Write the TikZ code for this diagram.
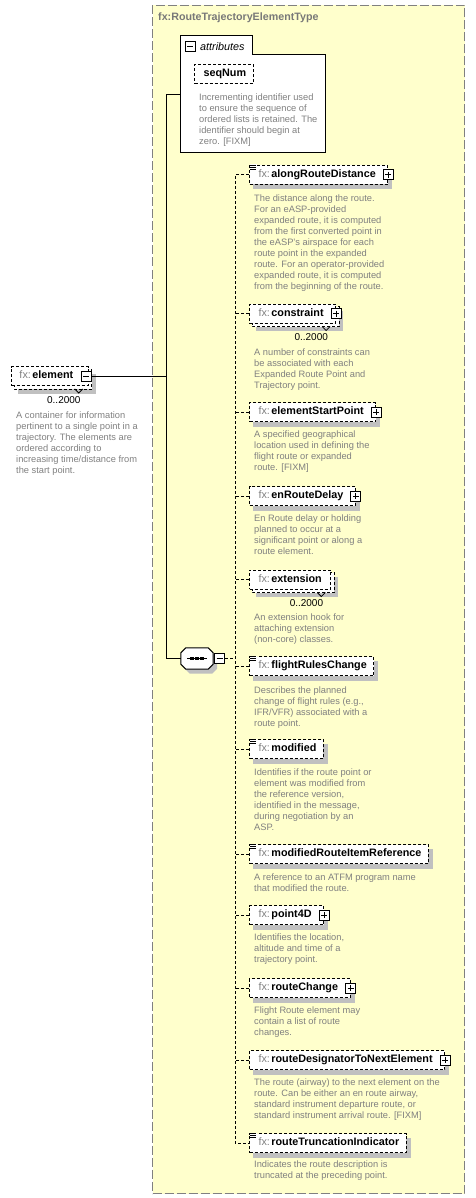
\documentclass[tikz,border=0pt]{standalone}
\usepackage{fontspec}
\setmainfont{Liberation Sans}
\definecolor{yel}{RGB}{255,255,204}
\definecolor{boxgray}{RGB}{128,128,128}
\definecolor{shgray}{RGB}{192,192,192}
\definecolor{fxgray}{RGB}{128,128,128}
\definecolor{descgray}{RGB}{128,128,128}
\definecolor{titlegray}{RGB}{120,120,120}
\pgfdeclarelayer{shadowlayer}
\pgfdeclarelayer{backlayer}
\pgfsetlayers{shadowlayer,backlayer,main}
\newcommand\elname[1]{{\color{fxgray}fx:}\hspace{1.5pt}\textbf{#1}}
\newcommand\desctext[1]{\parbox[t]{260pt}{\raggedright\fontsize{9.3}{11}\selectfont #1}}
\newcommand\simpleicon[1]{%
  \fill[white] ([shift={(0.5pt,0.5pt)}]#1.north west) rectangle ([shift={(7.5pt,-5pt)}]#1.north west);
  \foreach \k in {0pt,2pt,4pt} \draw[line width=0.8pt] ([shift={(1pt,-\k)}]#1.north west) -- ([shift={(7pt,-\k)}]#1.north west);}
\newcommand\notch[1]{%
  \draw[line width=0.8pt] ([shift={(-14pt,-3pt)}]#1.south east) -- ([shift={(-10pt,-7pt)}]#1.south east) -- ([shift={(-6pt,-3pt)}]#1.south east);}
\newcommand\octpath[2]{%
  ([shift={#2},xshift=5pt]#1.north west) -- ([shift={#2},xshift=-5pt]#1.north east)
  -- ([shift={#2},yshift=-5pt]#1.north east) -- ([shift={#2},yshift=5pt]#1.south east)
  -- ([shift={#2},xshift=-5pt]#1.south east) -- ([shift={#2},xshift=5pt]#1.south west)
  -- ([shift={#2},yshift=5pt]#1.south west) -- ([shift={#2},yshift=-5pt]#1.north west) -- cycle}
\tikzset{
  el/.style={draw, line width=1pt, dash pattern=on 3pt off 2pt, fill=white, minimum height=19pt,
    inner sep=0pt, anchor=west, font=\fontsize{10.8}{13}\selectfont, text height=8pt, text depth=2.3pt},
  desc/.style={anchor=base west, inner sep=0pt, text=descgray},
  mult/.style={anchor=east, inner sep=0pt, font=\fontsize{10}{12}\selectfont},
  icon/.style={draw, solid, line width=1pt, fill=white, minimum size=10pt, inner sep=0pt},
  plusicon/.style={icon, path picture={
      \draw[line width=1pt] ([xshift=2pt]path picture bounding box.west) -- ([xshift=-2pt]path picture bounding box.east);
      \draw[line width=1pt] ([yshift=-2pt]path picture bounding box.north) -- ([yshift=2pt]path picture bounding box.south);}},
  minusicon/.style={icon, path picture={
      \draw[line width=1pt] ([xshift=2pt]path picture bounding box.west) -- ([xshift=-2pt]path picture bounding box.east);}},
  conn/.style={line width=1pt},
  dconn/.style={line width=1pt, dash pattern=on 3pt off 2pt},
}
\begin{document}
\begin{tikzpicture}[x=1pt,y=-1pt]
\useasboundingbox (0,0) rectangle (475,1198);
\begin{pgfonlayer}{shadowlayer}
  \node[draw=boxgray, fill=yel, dash pattern=on 9pt off 3pt, line width=1pt, minimum width=312pt,
    minimum height=1188pt, anchor=north west, inner sep=0pt] (outer) at (152,5) {};
\end{pgfonlayer}
\node[anchor=west, inner sep=0pt, font=\bfseries\fontsize{10.7}{13}\selectfont, text=titlegray] (title) at (158,18) {fx:RouteTrajectoryElementType};

% attributes
\node[minimum width=145pt, minimum height=97pt, anchor=north west, inner sep=0pt] (attr) at (180,55) {};
\draw[line width=1pt, fill=white] (attr.south west) -- (180,36) -- (252,36) -- (252,55) -- (attr.north east) -- (attr.south east) -- cycle;
\node[minusicon] (am) at (190,47) {};
\node[anchor=west, inner sep=0pt, font=\itshape\fontsize{10.8}{13}\selectfont] (attrlbl) at (200,47) {attributes};
\node[el] (seqnum) at (194,74) {\hspace*{9pt}\textbf{seqNum}\hspace*{7pt}};
\node[desc] (dsq) at (199,100.5) {\desctext{Incrementing identifier used\\to ensure the sequence of\\ordered lists is retained. The\\identifier should begin at\\zero. [FIXM]}};

% element
\node[el] (elem) at (11,376) {\hspace*{8pt}\elname{element}\hspace*{15pt}};
\node[minusicon] (em) at ([xshift=-2.5pt]elem.east) {};
\notch{elem}
\node[mult] (elmult) at ([shift={(-8pt,-14.5pt)}]elem.south east) {0..2000};
\node[desc] (deldesc) at (16,418.5) {\desctext{A container for information\\pertinent to a single point in a\\trajectory. The elements are\\ordered according to\\increasing time/distance from\\the start point.}};

% junctions
\coordinate (j1) at (166,95);
\coordinate (dx) at (235,0);

% sequence
\node[minimum width=32pt, minimum height=21pt, inner sep=0pt] (seq) at (197,658.5) {};
\draw[line width=1pt, fill=white] \octpath{seq}{(0pt,0pt)};
\draw[line width=1pt] ([xshift=-10pt]seq.center) -- ([xshift=10pt]seq.center);
\foreach \d in {-5pt,0pt,5pt} \fill ([xshift=\d]seq.center) +(-1.6pt,-1.6pt) rectangle +(1.6pt,1.6pt);
\node[minusicon] (sm) at (219.5,658.5) {};

% children
\node[el] (c1) at (249,175) {\hspace*{9pt}\elname{alongRouteDistance}\hspace*{12pt}};
\node[el] (c2) at (249,313.5) {\hspace*{9pt}\elname{constraint}\hspace*{12pt}};
\node[el] (c3) at (249,412) {\hspace*{9pt}\elname{elementStartPoint}\hspace*{12pt}};
\node[el] (c4) at (249,496) {\hspace*{9pt}\elname{enRouteDelay}\hspace*{12pt}};
\node[el] (c5) at (249,579.5) {\hspace*{9pt}\elname{extension}\hspace*{9pt}};
\node[el] (c6) at (249,666) {\hspace*{9pt}\elname{flightRulesChange}\hspace*{7pt}};
\node[el] (c7) at (249,749) {\hspace*{9pt}\elname{modified}\hspace*{7pt}};
\node[el] (c8) at (249,854) {\hspace*{9pt}\elname{modifiedRouteItemReference}\hspace*{7pt}};
\node[el] (c9) at (249,915) {\hspace*{9pt}\elname{point4D}\hspace*{12pt}};
\node[el] (c10) at (249,988) {\hspace*{9pt}\elname{routeChange}\hspace*{12pt}};
\node[el] (c11) at (249,1060) {\hspace*{9pt}\elname{routeDesignatorToNextElement}\hspace*{12pt}};
\node[el] (c12) at (249,1143) {\hspace*{9pt}\elname{routeTruncationIndicator}\hspace*{7pt}};

\foreach \n in {1,2,3,4,9,10,11} \node[plusicon] (p\n) at (c\n.east) {};
\simpleicon{c1}
\simpleicon{c6}
\simpleicon{c7}
\simpleicon{c8}
\simpleicon{c12}
\notch{c2}
\notch{c5}
\node[mult] (m2) at ([shift={(-8pt,-13.5pt)}]c2.south east) {0..2000};
\node[mult] (m5) at ([shift={(-8pt,-13.5pt)}]c5.south east) {0..2000};

\node[desc] (d1) at (254,201.5) {\desctext{The distance along the route.\\For an eASP-provided\\expanded route, it is computed\\from the first converted point in\\the eASP's airspace for each\\route point in the expanded\\route. For an operator-provided\\expanded route, it is computed\\from the beginning of the route.}};
\node[desc] (d2) at (254,355.5) {\desctext{A number of constraints can\\be associated with each\\Expanded Route Point and\\Trajectory point.}};
\node[desc] (d3) at (254,437.5) {\desctext{A specified geographical\\location used in defining the\\flight route or expanded\\route. [FIXM]}};
\node[desc] (d4) at (254,521.5) {\desctext{En Route delay or holding\\planned to occur at a\\significant point or along a\\route element.}};
\node[desc] (d5) at (254,620.5) {\desctext{An extension hook for\\attaching extension\\(non-core) classes.}};
\node[desc] (d6) at (254,693.5) {\desctext{Describes the planned\\change of flight rules (e.g.,\\IFR/VFR) associated with a\\route point.}};
\node[desc] (d7) at (254,775.5) {\desctext{Identifies if the route point or\\element was modified from\\the reference version,\\identified in the message,\\during negotiation by an\\ASP.}};
\node[desc] (d8) at (254,880.5) {\desctext{A reference to an ATFM program name\\that modified the route.}};
\node[desc] (d9) at (254,940.5) {\desctext{Identifies the location,\\altitude and time of a\\trajectory point.}};
\node[desc] (d10) at (254,1013.5) {\desctext{Flight Route element may\\contain a list of route\\changes.}};
\node[desc] (d11) at (254,1085.5) {\desctext{The route (airway) to the next element on the\\route. Can be either an en route airway,\\standard instrument departure route, or\\standard instrument arrival route. [FIXM]}};
\node[desc] (d12) at (254,1167.5) {\desctext{Indicates the route description is\\truncated at the preceding point.}};

% connectors
\draw[conn] (em.east) -- (em.east -| j1);
\draw[conn] (attr.west |- j1) -- (j1) -- (seq.west -| j1) -- (seq.west);
\draw[dconn] (sm.east) -- (sm.east -| dx);
\draw[dconn] (c1.west) -- (c1.west -| dx) -- (c12.west -| dx) -- (c12.west);
\foreach \i in {2,...,11} \draw[dconn] (c\i.west) -- (c\i.west -| dx);

% shadows and stacked copies
\begin{pgfonlayer}{shadowlayer}
  \foreach \n in {seqnum,c1,c3,c4,c6,c7,c8,c9,c10,c11,c12}
    \fill[shgray] ([shift={(4pt,-4.5pt)}]\n.north west) rectangle ([shift={(4pt,-4.5pt)}]\n.south east);
  \foreach \n in {elem,c2,c5}
    \fill[shgray] ([shift={(7pt,-7.5pt)}]\n.north west) rectangle ([shift={(7pt,-7.5pt)}]\n.south east);
  \fill[shgray] \octpath{seq}{(4pt,-4.5pt)};
\end{pgfonlayer}
\begin{pgfonlayer}{backlayer}
  \foreach \n in {elem,c2,c5}
    \draw[line width=1pt, dash pattern=on 3pt off 2pt, fill=white] ([shift={(3pt,-3pt)}]\n.north west) rectangle ([shift={(3pt,-3pt)}]\n.south east);
\end{pgfonlayer}
\end{tikzpicture}
\end{document}
